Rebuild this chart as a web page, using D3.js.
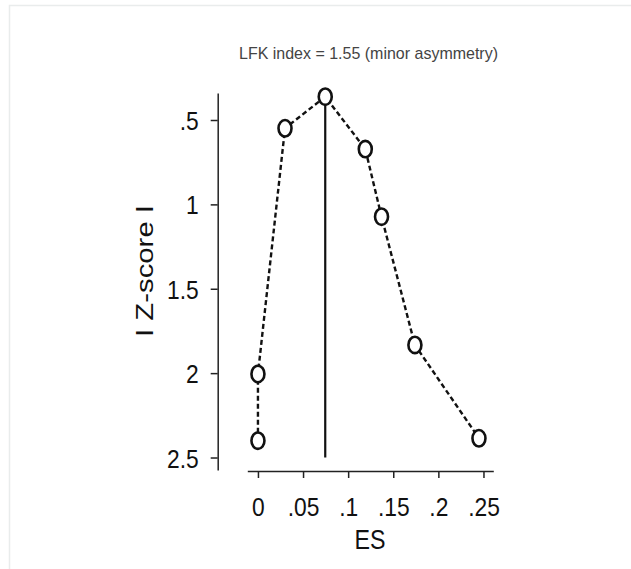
<!DOCTYPE html>
<html>
<head>
<meta charset="utf-8">
<script src="https://cdn.jsdelivr.net/npm/d3@7"></script>
<style>
  html, body { margin: 0; padding: 0; background: #fff; }
  svg { display: block; }
</style>
</head>
<body>
<script>
// Doi plot: effect size against |Z-score|, points joined in order
const esValues = [0, 0, 0.030, 0.0746, 0.119, 0.137, 0.174, 0.245];
const zValues  = [2.40, 2.005, 0.549, 0.362, 0.672, 1.073, 1.833, 2.386];

const xTickValues = [0, 0.05, 0.1, 0.15, 0.2, 0.25];
const xTickLabels = ["0", ".05", ".1", ".15", ".2", ".25"];
const yTickValues = [0.5, 1, 1.5, 2, 2.5];
const yTickLabels = [".5", "1", "1.5", "2", "2.5"];

// vertical reference line at the most precise study's effect size
const refES = 0.0746;
const refZTop = 0.362;
const refZBottom = 2.5;

const titleText = "LFK index = 1.55 (minor asymmetry)";
const xTitle = "ES";
const yTitle = "I Z-score I";

const W = 631, H = 569;
const FONT = "'Liberation Sans', Arial, Helvetica, sans-serif";
const CONDENSE = 0.86;   // narrow the glyphs a little

// squeeze a text element horizontally by the condense factor
function condense(sel) {
  sel.each(function () {
    const len = this.getComputedTextLength();
    d3.select(this)
      .attr("textLength", len * CONDENSE)
      .attr("lengthAdjust", "spacingAndGlyphs");
  });
}

const svg = d3.select("body").append("svg")
  .attr("width", W).attr("height", H);

svg.append("rect").attr("width", W).attr("height", H).attr("fill", "#fff");
// faint frame
svg.append("rect")
  .attr("x", 9.5).attr("y", 5.5).attr("width", 700).attr("height", 700)
  .attr("fill", "none").attr("stroke", "#e9ecec").attr("stroke-width", 1.5);

const x = d3.scaleLinear().domain([-0.0118, 0.2609]).range([247.3, 493.3]);
const y = d3.scaleLinear().domain([0.34, 2.574]).range([93, 470]);

const yAxisX = 217.7;
const xAxisY = 471;

// Y axis
const gy = svg.append("g")
  .attr("transform", `translate(${yAxisX},0)`)
  .call(d3.axisLeft(y)
    .tickValues(yTickValues)
    .tickFormat((d, i) => yTickLabels[i])
    .tickSize(7)
    .tickSizeOuter(0)
    .tickPadding(12));
gy.select(".domain").attr("stroke", "#222").attr("stroke-width", 1.5);
gy.selectAll(".tick line").attr("stroke", "#222").attr("stroke-width", 1.5);
gy.selectAll(".tick text")
  .attr("font-family", FONT).attr("font-size", 26.5).attr("fill", "#111")
  .attr("dy", "0.36em")
  .call(condense);

// X axis
const gx = svg.append("g")
  .attr("transform", `translate(0,${xAxisY})`)
  .call(d3.axisBottom(x)
    .tickValues(xTickValues)
    .tickFormat((d, i) => xTickLabels[i])
    .tickSize(7)
    .tickSizeOuter(0)
    .tickPadding(19));
gx.select(".domain").attr("stroke", "#222").attr("stroke-width", 1.5);
gx.selectAll(".tick line").attr("stroke", "#222").attr("stroke-width", 1.5);
gx.selectAll(".tick text")
  .attr("font-family", FONT).attr("font-size", 26.5).attr("fill", "#111")
  .call(condense);

// reference line
svg.append("line")
  .attr("x1", x(refES)).attr("x2", x(refES))
  .attr("y1", y(refZTop)).attr("y2", y(refZBottom))
  .attr("stroke", "#111").attr("stroke-width", 2.2);

// dashed connecting line
const pts = esValues.map((e, i) => [e, zValues[i]]);
svg.append("path")
  .datum(pts)
  .attr("fill", "none")
  .attr("stroke", "#111")
  .attr("stroke-width", 2.4)
  .attr("stroke-dasharray", "5,3")
  .attr("d", d3.line().x(d => x(d[0])).y(d => y(d[1])));

// hollow markers
svg.append("g").selectAll("ellipse")
  .data(pts)
  .join("ellipse")
  .attr("cx", d => x(d[0]))
  .attr("cy", d => y(d[1]))
  .attr("rx", 6.5).attr("ry", 8.2)
  .attr("fill", "#fff")
  .attr("stroke", "#111")
  .attr("stroke-width", 2.6);

// title
svg.append("text")
  .attr("x", 239).attr("y", 59)
  .attr("font-family", FONT).attr("font-size", 17).attr("fill", "#444")
  .attr("textLength", 259).attr("lengthAdjust", "spacingAndGlyphs")
  .text(titleText);

// axis titles
svg.append("text")
  .attr("x", 370).attr("y", 549)
  .attr("text-anchor", "middle")
  .attr("font-family", FONT).attr("font-size", 27).attr("fill", "#111")
  .text(xTitle)
  .call(condense);

svg.append("text")
  .attr("transform", `translate(153,271) rotate(-90)`)
  .attr("text-anchor", "middle")
  .attr("font-family", FONT).attr("font-size", 23).attr("fill", "#111")
  .attr("textLength", 132).attr("lengthAdjust", "spacingAndGlyphs")
  .text(yTitle);
</script>
</body>
</html>
